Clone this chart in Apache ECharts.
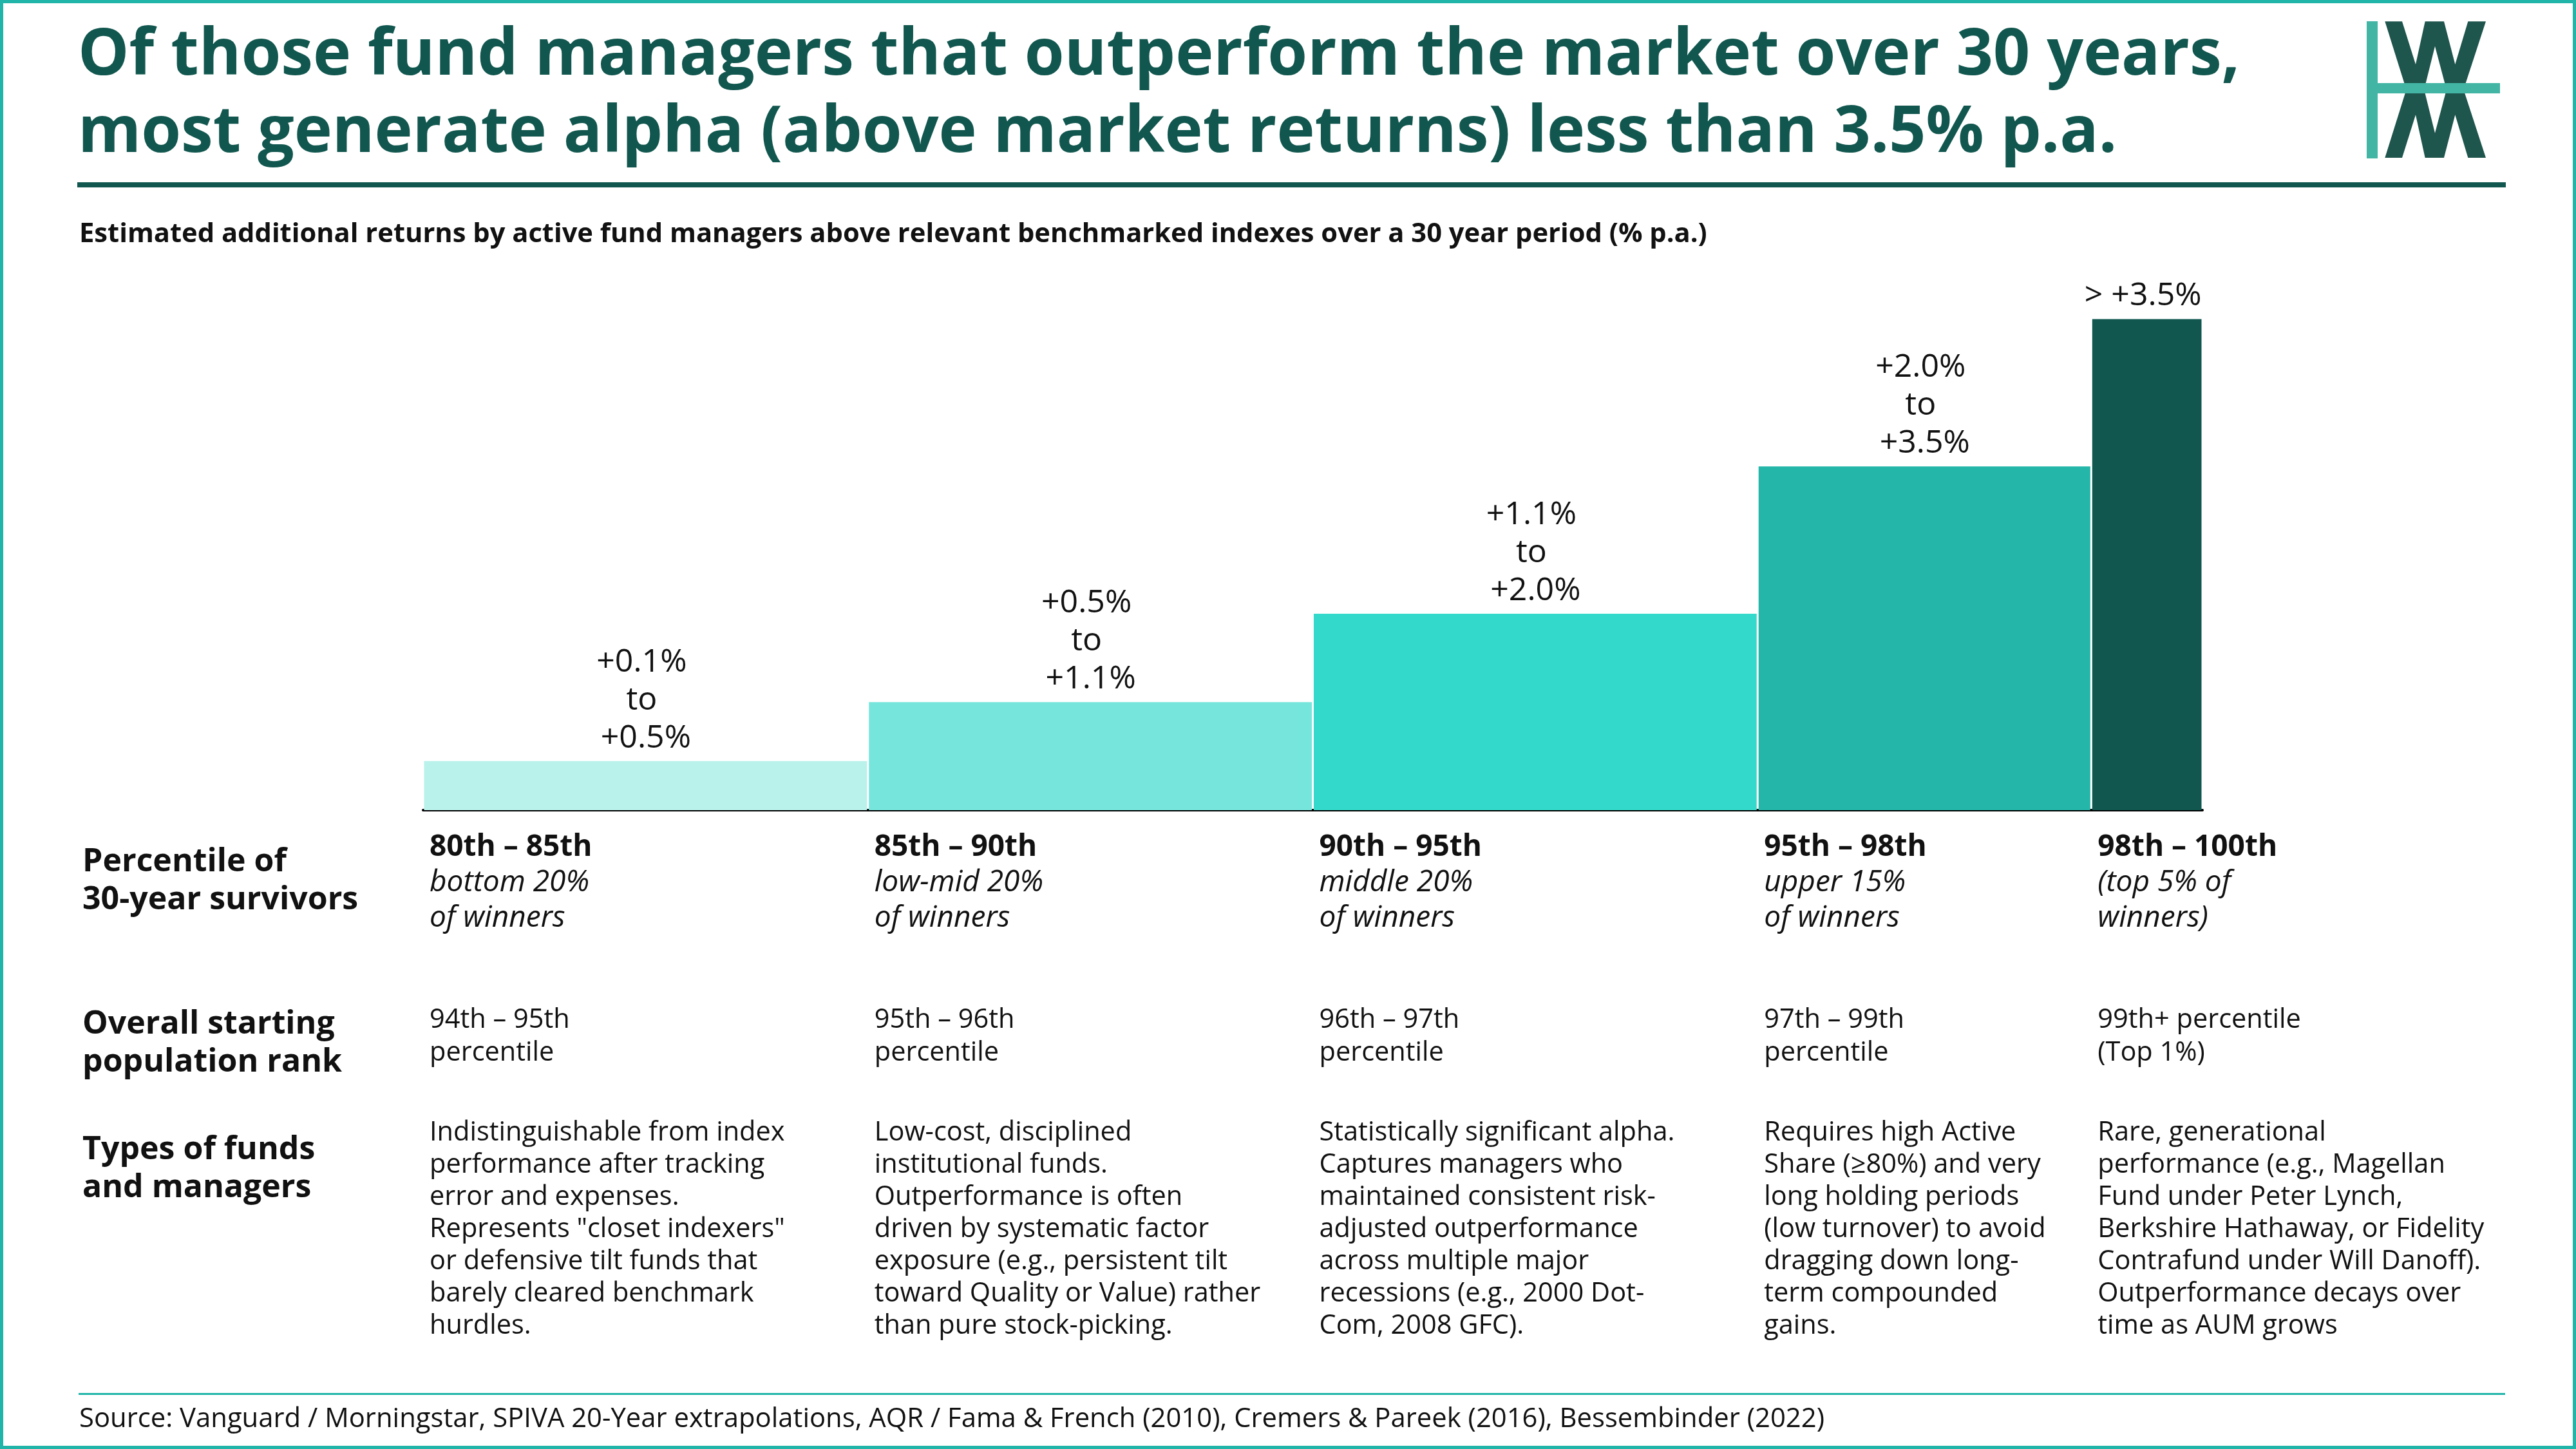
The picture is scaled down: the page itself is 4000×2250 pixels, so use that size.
<!DOCTYPE html>
<html>
<head>
<meta charset="utf-8">
<script src="https://cdn.jsdelivr.net/npm/echarts@6/dist/echarts.min.js"></script>
<style>
html,body{margin:0;padding:0;background:#fff;}
#chart{width:4000px;height:2250px;}
</style>
</head>
<body>
<div id="chart"></div>
<script>
// ---------------- data ----------------
const titleText = 'Of those fund managers that outperform the market over 30 years,\nmost generate alpha (above market returns) less than 3.5% p.a.';
const subtitleText = 'Estimated additional returns by active fund managers above relevant benchmarked indexes over a 30 year period (% p.a.)';
const sourceText = 'Source: Vanguard / Morningstar, SPIVA 20-Year extrapolations, AQR / Fama & French (2010), Cremers & Pareek (2016), Bessembinder (2022)';

const categories = ['80th – 85th', '85th – 90th', '90th – 95th', '95th – 98th', '98th – 100th'];
const barWidths = [4, 4, 4, 3, 1];               // relative column widths
const barValues = [0.5, 1.1, 2.0, 3.5, 5.0];      // bar heights (% p.a.)
const barLabels = ['+0.1%\nto\n +0.5%', '+0.5%\nto\n +1.1%', '+1.1%\nto\n +2.0%', '+2.0%\nto\n +3.5%', '> +3.5%'];
const tiers = ['bottom 20%\nof winners', 'low-mid 20%\nof winners', 'middle 20%\nof winners', 'upper 15%\nof winners', '(top 5% of\nwinners)'];
const ranks = ['94th – 95th\npercentile', '95th – 96th\npercentile', '96th – 97th\npercentile', '97th – 99th\npercentile', '99th+ percentile\n(Top 1%)'];
const descriptions = [
  'Indistinguishable from index\nperformance after tracking\nerror and expenses.\nRepresents "closet indexers"\nor defensive tilt funds that\nbarely cleared benchmark\nhurdles.',
  'Low-cost, disciplined\ninstitutional funds.\nOutperformance is often\ndriven by systematic factor\nexposure (e.g., persistent tilt\ntoward Quality or Value) rather\nthan pure stock-picking.',
  'Statistically significant alpha.\nCaptures managers who\nmaintained consistent risk-\nadjusted outperformance\nacross multiple major\nrecessions (e.g., 2000 Dot-\nCom, 2008 GFC).',
  'Requires high Active\nShare (≥80%) and very\nlong holding periods\n(low turnover) to avoid\ndragging down long-\nterm compounded\ngains.',
  'Rare, generational\nperformance (e.g., Magellan\nFund under Peter Lynch,\nBerkshire Hathaway, or Fidelity\nContrafund under Will Danoff).\nOutperformance decays over\ntime as AUM grows'
];
const rowHeaders = ['Percentile of\n30-year survivors', 'Overall starting\npopulation rank', 'Types of funds\nand managers'];

// ---------------- styles ----------------
const FONT = '"Open Sans", "Noto Sans", sans-serif';
const DARK = '#12574f';
const TEAL = '#20b5a8';
const TXT = '#111111';
const barColors = ['#b9f1eb', '#76e6dc', '#33d9ca', '#23b6a9', '#115750'];

// build custom-series data from the arrays
const seriesData = [];
let acc = 0;
for (let i = 0; i < categories.length; i++) {
  seriesData.push([acc, acc + barWidths[i], barValues[i], i]);
  acc += barWidths[i];
}
const totalWidth = acc;

const chart = echarts.init(document.getElementById('chart'), null, {renderer: 'canvas'});

function renderItem(params, api) {
  const s = api.value(0), e = api.value(1), v = api.value(2), idx = api.value(3);
  const p0 = api.coord([s, 0]);
  const p1 = api.coord([e, v]);
  const x0 = p0[0] + 1.5, x1 = p1[0] - 1.5;
  const yTop = p1[1], yBase = p0[1];
  const tx = p0[0] + 10;
  return {
    type: 'group',
    children: [
      {type: 'rect', shape: {x: x0, y: yTop, width: x1 - x0, height: yBase - yTop},
       style: {fill: barColors[idx]}},
      {type: 'text', style: {text: barLabels[idx], x: (p0[0] + p1[0]) / 2 - 6, y: yTop - 6,
        align: 'center', verticalAlign: 'bottom', fill: TXT, fontFamily: FONT, fontSize: 50, lineHeight: 59}},
      {type: 'text', style: {
        text: '{b|' + categories[idx] + '}\n' + tiers[idx].split('\n').map(t => '{i|' + t + '}').join('\n'),
        x: tx, y: 1288, align: 'left', verticalAlign: 'top',
        rich: {
          b: {fontFamily: FONT, fontWeight: 'bold', fontSize: 46, lineHeight: 55, fill: TXT},
          i: {fontFamily: FONT, fontStyle: 'italic', fontSize: 46, lineHeight: 55, fill: TXT}
        }}},
      {type: 'text', style: {text: ranks[idx], x: tx, y: 1559, align: 'left', verticalAlign: 'top',
        fill: TXT, fontFamily: FONT, fontSize: 41.5, lineHeight: 51}},
      {type: 'text', style: {text: descriptions[idx], x: tx, y: 1734, align: 'left', verticalAlign: 'top',
        fill: TXT, fontFamily: FONT, fontSize: 41.5, lineHeight: 50}}
    ]
  };
}

// W / M logo shapes
const Wpts = [[310,100],[390,100],[453,300],[497,100],[585,100],[637,300],[697,100],[780,100],[682,400],[592,400],[543,215],[497,400],[404,400]];
const toLogo = (p, flip) => [3600 + p[0] / 3, (flip ? 835 - p[1] : p[1]) / 3];

const rowTops = [1309, 1561, 1756];

chart.setOption({
  animation: false,
  backgroundColor: '#ffffff',
  title: [
    {text: titleText, left: 116, top: 23,
     textStyle: {fontFamily: FONT, fontWeight: 'bold', fontSize: 100, lineHeight: 120, color: DARK}},
    {text: subtitleText, left: 118, top: 334,
     textStyle: {fontFamily: FONT, fontWeight: 'bold', fontSize: 41.7, lineHeight: 50, color: TXT}},
    {text: sourceText, left: 118, top: 2174,
     textStyle: {fontFamily: FONT, fontWeight: 'normal', fontSize: 41.8, lineHeight: 50, color: TXT}}
  ],
  grid: {left: 657, right: 580, top: 495.5, bottom: 992, containLabel: false},
  xAxis: {type: 'value', min: 0, max: totalWidth, splitLine: {show: false},
    axisLine: {show: true, lineStyle: {color: '#000', width: 4}}, axisTick: {show: false}, axisLabel: {show: false}},
  yAxis: {type: 'value', min: 0, max: 5, show: false},
  series: [{type: 'custom', renderItem: renderItem, data: seriesData, clip: false, z: 1,
    encode: {x: [0, 1], y: 2}}],
  graphic: [
    {type: 'rect', shape: {x: 2.5, y: 2.5, width: 3995, height: 2245}, style: {fill: 'none', stroke: TEAL, lineWidth: 5}, z: 10},
    {type: 'rect', shape: {x: 120, y: 283, width: 3771, height: 8}, style: {fill: DARK}},
    {type: 'rect', shape: {x: 122, y: 2163, width: 3768, height: 3}, style: {fill: TEAL}},
    // logo
    {type: 'polygon', shape: {points: Wpts.map(p => toLogo(p, false))}, style: {fill: '#1e554d'}},
    {type: 'polygon', shape: {points: Wpts.map(p => toLogo(p, true))}, style: {fill: '#1e554d'}},
    {type: 'rect', shape: {x: 3675, y: 33, width: 17, height: 213}, style: {fill: '#43b5a5'}, z: 5},
    {type: 'rect', shape: {x: 3692, y: 129, width: 190, height: 16}, style: {fill: '#43b5a5'}, z: 5},
    // row headers
    ...rowHeaders.map((t, i) => ({type: 'text', left: 128, top: rowTops[i],
      style: {text: t, fill: TXT, fontFamily: FONT, fontWeight: 'bold', fontSize: 50, lineHeight: 59}}))
  ]
});
</script>
</body>
</html>
